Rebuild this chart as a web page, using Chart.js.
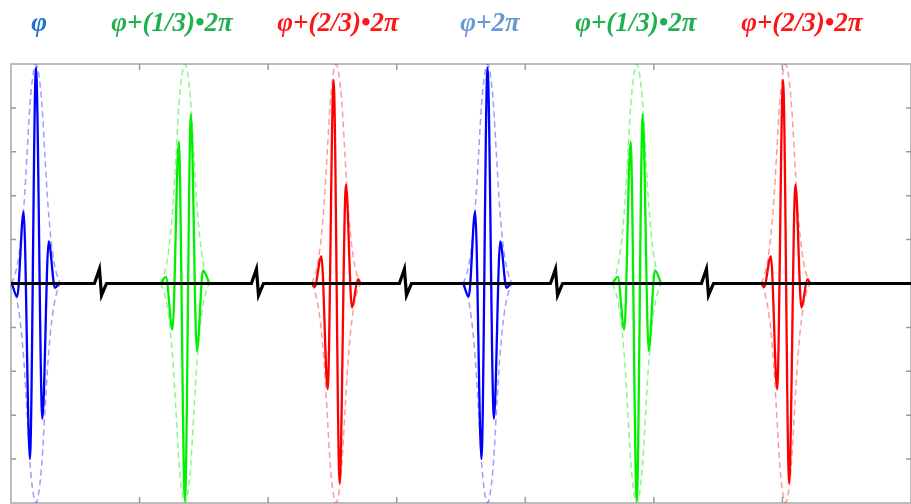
<!DOCTYPE html>
<html>
<head>
<meta charset="utf-8">
<title>Phase shifted pulses</title>
<script src="https://cdn.jsdelivr.net/npm/chart.js@4.4.1/dist/chart.umd.min.js"></script>
<style>
    html, body { margin: 0; padding: 0; background: #ffffff; }
    #wrap { width: 911px; height: 504px; position: relative; }
</style>
</head>
<body>
<div id="wrap"><canvas id="chart"></canvas></div>
<script>
// pulse centres along the axis and which phase each one uses
const packetCenters = [0.194, 1.353, 2.528, 3.706, 4.867, 6.024];
const packetPhase = ['blue', 'green', 'red', 'blue', 'green', 'red'];

// labels written above each pulse
const packetLabels = ['φ', 'φ+(1/3)•2π', 'φ+(2/3)•2π', 'φ+2π', 'φ+(1/3)•2π', 'φ+(2/3)•2π'];
const labelAt = [0.218, 1.252, 2.543, 3.725, 4.86, 6.151];

// carrier extrema, offset from the pulse centre
const blueDx = [-0.188, -0.146, -0.096, -0.047, 0, 0.05, 0.099, 0.148, 0.178];
const blueY = [0, -0.3, 1.64, -4.0, 4.92, -3.08, 0.96, -0.1, 0];
const greenDx = [-0.189, -0.148, -0.097, -0.048, 0, 0.046, 0.093, 0.141, 0.19];
const greenY = [0, 0.15, -1.05, 3.23, -4.95, 3.86, -1.54, 0.3, 0];
const redDx = [-0.183, -0.167, -0.114, -0.065, -0.019, 0.028, 0.077, 0.124, 0.171, 0.19];
const redY = [0, -0.08, 0.62, -2.41, 4.64, -4.55, 2.25, -0.55, 0.1, 0];

// dashed envelope (upper half, mirrored for the lower one)
const envDx = [-0.19, -0.163, -0.14, -0.117, -0.093, -0.07, -0.047, -0.023, 0, 0.023, 0.047, 0.07, 0.093, 0.117, 0.14, 0.163, 0.19];
const envY = [0, 0.2, 0.5, 1.0, 1.8, 2.9, 4.05, 4.75, 5, 4.75, 4.05, 2.9, 1.8, 1.0, 0.5, 0.2, 0];

// axis break marks on the zero line
const breakAt = [0.692, 1.913, 3.064, 4.239, 5.413];
const breakDx = [-0.043, -0.004, 0.012, 0.051];
const breakDy = [0, 0.33, -0.27, 0];

// inner tick marks
const xTicks = [1, 2, 3, 4, 5, 6];
const yTicks = [-4, -3, -2, -1, 0, 1, 2, 3, 4];

const carriers = {
    blue: { dx: blueDx, y: blueY, line: '#0000ff', env: 'rgba(40, 40, 255, 0.45)' },
    green: { dx: greenDx, y: greenY, line: '#00f000', env: 'rgba(0, 235, 0, 0.45)' },
    red: { dx: redDx, y: redY, line: '#ff0000', env: 'rgba(255, 30, 30, 0.45)' }
};
const labelColors = ['#1f6fd0', '#1fb050', '#ff1515', '#6a98d4', '#1fb050', '#ff1515'];

function shifted(center, dx, ys, sign) {
    return dx.map((d, i) => ({ x: center + d, y: sign * ys[i] }));
}

const datasets = [];

// zero line with its break marks, drawn on top of everything
const basePoints = [{ x: 0, y: 0 }];
breakAt.forEach(b => {
    breakDx.forEach((d, i) => basePoints.push({ x: b + d, y: breakDy[i] }));
});
basePoints.push({ x: 7, y: 0 });
datasets.push({
    data: basePoints,
    borderColor: '#000000',
    borderWidth: 3.2,
    pointRadius: 0,
    tension: 0,
    order: 0
});

packetCenters.forEach((c, k) => {
    const ph = carriers[packetPhase[k]];
    datasets.push({
        data: shifted(c, ph.dx, ph.y, 1),
        borderColor: ph.line,
        borderWidth: 2.3,
        pointRadius: 0,
        cubicInterpolationMode: 'monotone',
        order: 1
    });
    [1, -1].forEach(sign => {
        datasets.push({
            data: shifted(c, envDx, envY, sign),
            borderColor: ph.env,
            borderWidth: 1.5,
            borderDash: [6, 4],
            pointRadius: 0,
            cubicInterpolationMode: 'monotone',
            order: 2
        });
    });
});

const tickMarks = {
    id: 'tickMarks',
    beforeDatasetsDraw(chart) {
        const { ctx, chartArea: a, scales: { x, y } } = chart;
        ctx.save();
        ctx.strokeStyle = '#9a9a9a';
        ctx.lineWidth = 1.5;
        ctx.beginPath();
        xTicks.forEach(v => {
            const px = x.getPixelForValue(v);
            ctx.moveTo(px, a.top);
            ctx.lineTo(px, a.top + 6);
            ctx.moveTo(px, a.bottom);
            ctx.lineTo(px, a.bottom - 6);
        });
        yTicks.forEach(v => {
            const py = y.getPixelForValue(v);
            ctx.moveTo(a.left, py);
            ctx.lineTo(a.left + 5, py);
            ctx.moveTo(a.right, py);
            ctx.lineTo(a.right - 5, py);
        });
        ctx.stroke();
        ctx.restore();
    }
};

const pulseLabels = {
    id: 'pulseLabels',
    afterDraw(chart) {
        const { ctx, scales: { x } } = chart;
        ctx.save();
        ctx.font = 'italic bold 27px "Liberation Serif", "DejaVu Serif", serif';
        ctx.textAlign = 'center';
        ctx.textBaseline = 'alphabetic';
        packetLabels.forEach((t, i) => {
            ctx.fillStyle = labelColors[i];
            ctx.fillText(t, x.getPixelForValue(labelAt[i]), 31);
        });
        ctx.restore();
    }
};

const axisBorder = { display: true, color: '#bcbcbc', width: 2 };

new Chart(document.getElementById('chart'), {
    type: 'line',
    data: { datasets },
    options: {
        responsive: true,
        maintainAspectRatio: false,
        animation: false,
        layout: { padding: { left: 11, top: 64, right: 0, bottom: 1 } },
        plugins: {
            legend: { display: false },
            tooltip: { enabled: false }
        },
        scales: {
            x: {
                type: 'linear', position: 'bottom', min: 0, max: 7,
                grid: { display: false, drawTicks: false },
                ticks: { display: false },
                border: axisBorder
            },
            xTop: {
                type: 'linear', position: 'top', min: 0, max: 7,
                grid: { display: false, drawTicks: false },
                ticks: { display: false },
                border: axisBorder
            },
            y: {
                type: 'linear', position: 'left', min: -5, max: 5,
                grid: { display: false, drawTicks: false },
                ticks: { display: false },
                border: axisBorder
            },
            yRight: {
                type: 'linear', position: 'right', min: -5, max: 5,
                grid: { display: false, drawTicks: false },
                ticks: { display: false },
                border: axisBorder
            }
        }
    },
    plugins: [tickMarks, pulseLabels]
});
</script>
</body>
</html>
